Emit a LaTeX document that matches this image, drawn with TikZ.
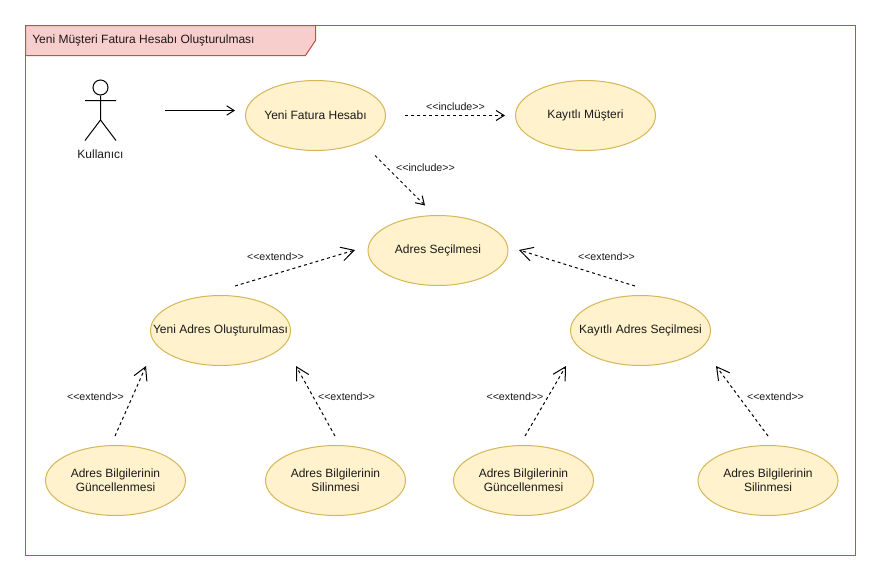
\documentclass[tikz,border=0pt]{standalone}
\usepackage{fontspec}
\setmainfont{Liberation Sans}
\usetikzlibrary{arrows.meta,shapes.geometric}
\definecolor{ucfill}{HTML}{FFF2CC}
\definecolor{ucline}{HTML}{D6B656}
\definecolor{tabfill}{HTML}{F8CECC}
\definecolor{tabline}{HTML}{B85450}
\definecolor{txt}{HTML}{1A1A1A}
\newcommand{\zw}[1]{\makebox[0pt][c]{#1}}
\tikzset{
  usecase/.style={ellipse,draw=ucline,fill=ucfill,line width=0.75pt,minimum width=105pt,minimum height=52.5pt,inner sep=0pt,align=center,font=\fontsize{9}{10.8}\selectfont,text=txt},
  lbl/.style={font=\fontsize{8}{9}\selectfont,text=txt,inner sep=0pt},
  solidarrow/.style={line width=0.75pt,-{Straight Barb[length=5.5pt,width=7pt]}},
  dashedarrow/.style={line width=0.75pt,dash pattern=on 2.25pt off 2.25pt,-{Straight Barb[length=6pt,width=7.5pt]}},
  bigarrow/.style={line width=0.75pt,dash pattern=on 2.25pt off 2.25pt,-{Straight Barb[length=9.5pt,width=10.5pt]}},
}
\begin{document}
\begin{tikzpicture}[x=0.75pt,y=-0.75pt]
\useasboundingbox (0,0) rectangle (882,582);
\draw[tabline,line width=0.75pt] (25.5,25.5) rectangle (855.5,555.5);
\draw[tabline,fill=tabfill,line width=0.75pt] (25.5,25.5) -- (315.5,25.5) -- (315.5,40.5) -- (305.5,55.5) -- (25.5,55.5) -- cycle;
\node[anchor=west,font=\fontsize{9}{10.8}\selectfont,text=txt,inner sep=0pt] (title) at (32,40) {Yeni Müşteri Fatura Hesabı Oluşturulması};

% actor
\node[circle,draw=black,line width=0.75pt,minimum size=11.25pt,inner sep=0pt] (head) at (100.5,87.5) {};
\coordinate (hip) at (100.5,120);
\coordinate (armL) at (85,100.5);
\coordinate (armR) at (116,100.5);
\coordinate (footL) at (85,140.5);
\coordinate (footR) at (116,140.5);
\draw[line width=0.75pt] (head) -- (hip) (armL) -- (armR) (footL) -- (hip) -- (footR);
\node[font=\fontsize{9}{10.8}\selectfont,text=txt,inner sep=0pt] (actorname) at (100.5,154) {Kullanıcı};

% use cases
\node[usecase] (fatura) at (315.5,115.5) {\zw{Yeni Fatura Hesabı}};
\node[usecase] (kayitli) at (585.5,115.5) {\zw{Kayıtlı Müşteri}};
\node[usecase] (secim) at (438,250.5) {\zw{Adres Seçilmesi}};
\node[usecase] (yeniadres) at (220.5,330.5) {\zw{Yeni Adres Oluşturulması}};
\node[usecase] (kayitliadres) at (640.5,330.5) {\zw{Kayıtlı Adres Seçilmesi}};
\node[usecase] (g1) at (115.5,480.5) {\zw{Adres Bilgilerinin}\\\zw{Güncellenmesi}};
\node[usecase] (s1) at (335.5,480.5) {\zw{Adres Bilgilerinin}\\\zw{Silinmesi}};
\node[usecase] (g2) at (523.5,480.5) {\zw{Adres Bilgilerinin}\\\zw{Güncellenmesi}};
\node[usecase] (s2) at (768,480.5) {\zw{Adres Bilgilerinin}\\\zw{Silinmesi}};

% connector ends (the connectors stop short of the shapes)
\coordinate (a0) at (165,110.5);  \coordinate (a1) at (235,110.5);
\coordinate (b0) at (405,115.5);  \coordinate (b1) at (505,115.5);
\coordinate (c0) at (375,155.5);  \coordinate (c1) at (425,205.5);
\coordinate (d0) at (235,286);    \coordinate (d1) at (355,250);
\coordinate (e0) at (635,286);    \coordinate (e1) at (519,250);
\coordinate (f0) at (115,436);    \coordinate (f1) at (146,366);
\coordinate (h0) at (335,436);    \coordinate (h1) at (296,366);
\coordinate (i0) at (525,436);    \coordinate (i1) at (566,366);
\coordinate (j0) at (768,436);    \coordinate (j1) at (716,366);

\draw[solidarrow] (a0) -- (a1);
\draw[dashedarrow] (b0) -- (b1);
\draw[dashedarrow] (c0) -- (c1);
\draw[bigarrow] (d0) -- (d1);
\draw[bigarrow] (e0) -- (e1);
\draw[bigarrow] (f0) -- (f1);
\draw[bigarrow] (h0) -- (h1);
\draw[bigarrow] (i0) -- (i1);
\draw[bigarrow] (j0) -- (j1);

\node[lbl] (l1) at (455.5,106.5) {<{}<include>{}>};
\node[lbl] (l2) at (425.5,167.5) {<{}<include>{}>};
\node[lbl] (l3) at (275.5,256.5) {<{}<extend>{}>};
\node[lbl] (l4) at (606.5,256.5) {<{}<extend>{}>};
\node[lbl] (l5) at (95.5,396.5) {<{}<extend>{}>};
\node[lbl] (l6) at (346.5,396.5) {<{}<extend>{}>};
\node[lbl] (l7) at (515,396.5) {<{}<extend>{}>};
\node[lbl] (l8) at (775.5,396.5) {<{}<extend>{}>};
\end{tikzpicture}
\end{document}
